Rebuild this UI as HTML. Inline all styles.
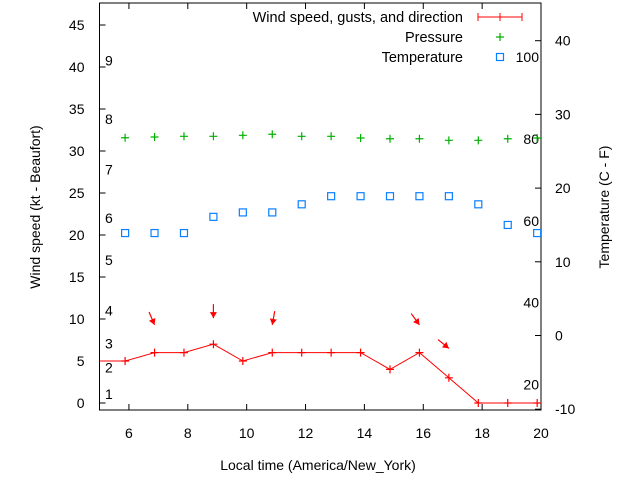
<!DOCTYPE html>
<html><head><meta charset="utf-8"><style>
body{margin:0;background:#fff}
svg{display:block;font-family:"Liberation Sans",sans-serif;font-size:14px}
</style></head><body>
<svg id="chart" width="640" height="480" viewBox="0 0 640 480" xmlns="http://www.w3.org/2000/svg">
<g id="axes"></g><g id="marks"></g>
</svg>
<script>
const times=[5.87,6.87,7.87,8.87,9.87,10.87,11.87,12.87,13.87,14.87,15.87,16.87,17.87,18.87,19.87];
const wind=[5,6,6,7,5,6,6,6,6,4,6,3,0,0,0];
const pressure=[31.58,31.67,31.75,31.75,31.87,31.99,31.75,31.75,31.55,31.46,31.46,31.27,31.27,31.46,31.55];
const tempC=[13.9,13.9,13.9,16.1,16.7,16.7,17.8,18.9,18.9,18.9,18.9,18.9,17.8,15.0,13.9];
const gustTimes=[6.87,8.87,10.87,15.87,16.87];
const gustVals=[9.3,10.1,9.3,9.3,6.5];
const gustDirs=[337,0,10,324,309];
const xTicks=[6,8,10,12,14,16,18,20];
const yTicks=[0,5,10,15,20,25,30,35,40,45];
const tTicks=[-10,0,10,20,30,40];
const beaufort=[[1,1.1],[2,4.2],[3,7.1],[4,11],[5,17],[6,22],[7,27.8],[8,33.8],[9,40.8]];
const fahr=[20,40,60,80,100];

const L=99.5,R=541,T=3,B=410;
const X=v=>L+(v-5)*(R-L)/15;
const Y=v=>403-8.4*v;
const YT=c=>335.5-7.37*c;
const NS="http://www.w3.org/2000/svg";
const ax=document.getElementById('axes'),mk=document.getElementById('marks');
function el(tag,attrs,parent,text){const e=document.createElementNS(NS,tag);for(const k in attrs)e.setAttribute(k,attrs[k]);if(text!==undefined)e.textContent=text;parent.appendChild(e);return e;}

let frame=el('rect',{x:L,y:T,width:R-L,height:B-T,fill:'none',stroke:'#000','stroke-width':1},ax);


xTicks.forEach(v=>{
  el('line',{x1:X(v),x2:X(v),y1:B,y2:B-6,stroke:'#000'},ax);
  el('line',{x1:X(v),x2:X(v),y1:T,y2:T+6,stroke:'#000'},ax);
  let t=el('text',{x:X(v),y:B+28,'text-anchor':'middle'},ax,String(v));
  
  
});
yTicks.forEach(v=>{
  el('line',{x1:L,x2:L+6,y1:Y(v),y2:Y(v),stroke:'#000'},ax);
  let t=el('text',{x:L-15,y:Y(v)+5,'text-anchor':'end'},ax,String(v));
  
  
});
tTicks.forEach(v=>{
  el('line',{x1:R,x2:R-6,y1:YT(v),y2:YT(v),stroke:'#000'},ax);
  let t=el('text',{x:R+14,y:YT(v)+5,'text-anchor':'start'},ax,String(v));
  
  
});
beaufort.forEach(b=>{
  let t=el('text',{x:105,y:Y(b[1])+5},ax,String(b[0]));
  
  
});
fahr.forEach(f=>{
  let t=el('text',{x:539,y:YT((f-32)*5/9)+5,'text-anchor':'end'},ax,String(f));
  
  
});
let xt=el('text',{x:318,y:470,'text-anchor':'middle'},ax,'Local time (America/New_York)');


let yt=el('text',{x:40,y:207,'text-anchor':'middle',transform:'rotate(-90 40 207)'},ax,'Wind speed (kt - Beaufort)');


let y2=el('text',{x:609,y:207,'text-anchor':'middle',transform:'rotate(-90 609 207)'},ax,'Temperature (C - F)');



const defs=el('defs',{},mk);const cp=el('clipPath',{id:'clip'},defs);el('rect',{x:L,y:T,width:R-L,height:B-T},cp);
const g=el('g',{'clip-path':'url(#clip)'},mk);
times.forEach((t,i)=>{
  const x=X(t),y=Y(pressure[i]);
  let p=el('path',{d:`M${x-4} ${y}H${x+4}M${x} ${y-4}V${y+4}`,stroke:'#00b000','stroke-width':1.2},g);
  
  
});
times.forEach((t,i)=>{
  const x=X(t),y=YT(tempC[i]);
  let s=el('rect',{x:x-3.5,y:y-3.5,width:7,height:7,fill:'none',stroke:'#0a7fff','stroke-width':1.2},g);
  
  
});
let d='M'+L+' '+Y(wind[0]);
times.forEach((t,i)=>{d+=' L'+X(t)+' '+Y(wind[i]);});
let wl=el('path',{d:d,fill:'none',stroke:'#f00','stroke-width':1},g);


times.forEach((t,i)=>{
  const x=X(t),y=Y(wind[i]);
  let p=el('path',{d:`M${x-4} ${y}H${x+4}M${x} ${y-4}V${y+4}`,stroke:'#f00','stroke-width':1.2},g);
  
  
});
gustTimes.forEach((t,i)=>{
  const hx=X(t),hy=Y(gustVals[i]);const th=gustDirs[i]*Math.PI/180;
  const fx=-Math.sin(th),fy=Math.cos(th);const len=14;
  const tx=hx-len*fx,ty=hy-len*fy;
  const px=-fy,py=fx;
  const bx=hx-6*fx,by=hy-6*fy;
  let a=el('g',{},g);
  
  
  el('line',{x1:tx,y1:ty,x2:hx,y2:hy,stroke:'#f00','stroke-width':1.2},a);
  el('polygon',{points:`${hx},${hy} ${bx+3.5*px},${by+3.5*py} ${bx-3.5*px},${by-3.5*py}`,fill:'#f00'},a);
});
const lg=el('g',{},mk);


[['Wind speed, gusts, and direction',22],['Pressure',42],['Temperature',62]].forEach(e=>{
  let t=el('text',{x:463,y:e[1],'text-anchor':'end','font-size':'14.5px'},lg,e[0]);
  
  
});
el('path',{d:'M478 17H522M478 13V21M500 13V21M522 13V21',stroke:'#f00','stroke-width':1},lg);
el('path',{d:'M496 37H504M500 33V41',stroke:'#00b000','stroke-width':1.2},lg);
el('rect',{x:496.5,y:53.5,width:7,height:7,fill:'none',stroke:'#0a7fff','stroke-width':1.2},lg);
</script>
</body></html>
